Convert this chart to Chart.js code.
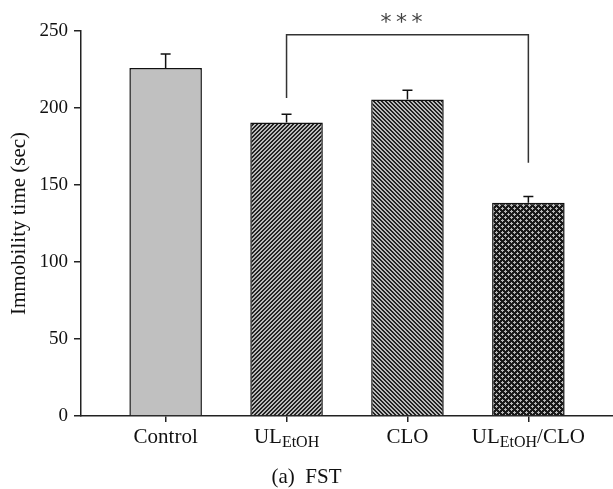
<!DOCTYPE html>
<html>
<head>
<meta charset="utf-8">
<script src="https://cdn.jsdelivr.net/npm/chart.js@4.4.1/dist/chart.umd.min.js"></script>
<style>
  html, body { margin: 0; padding: 0; background: #fff; }
  #wrap { width: 613px; height: 489px; position: relative; }
</style>
</head>
<body>
<div id="wrap"><canvas id="chart"></canvas></div>
<script>
// datos
const groups = ["Control", "UL", "CLO", "UL/CLO"];
const groupMain = ["Control", "UL", "CLO", "UL"];
const groupSub = ["", "EtOH", "", "EtOH"];
const groupTail = ["", "", "", "/CLO"];
const means = [226, 190.5, 205.5, 138.5];
const sems = [9, 5.5, 6, 4];
const yTicks = [0, 50, 100, 150, 200, 250];

// corchete de significancia (***)
const bracketFrom = 1;
const bracketTo = 3;
const bracketTop = 247.5;
const bracketLeftEnd = 206.5;
const bracketRightEnd = 164.5;
const bracketText = "***";

const serif = "'Liberation Serif', 'DejaVu Serif', serif";

// patrones de relleno
function makePattern(size, draw) {
  const c = document.createElement("canvas");
  c.width = size;
  c.height = size;
  const g = c.getContext("2d");
  draw(g, size);
  return g.createPattern(c, "repeat");
}

const hatchUp = makePattern(4, (g, n) => {
  g.fillStyle = "#bababa";
  g.fillRect(0, 0, n, n);
  g.fillStyle = "#222";
  for (let x = 0; x < n; x++)
    for (let y = 0; y < n; y++)
      if ((x + y) % n < 2) g.fillRect(x, y, 1, 1);
});

const hatchDown = makePattern(4, (g, n) => {
  g.fillStyle = "#bababa";
  g.fillRect(0, 0, n, n);
  g.fillStyle = "#222";
  for (let x = 0; x < n; x++)
    for (let y = 0; y < n; y++)
      if (((x - y) % n + n) % n < 2) g.fillRect(x, y, 1, 1);
});

const crossHatch = makePattern(6, (g, n) => {
  g.fillStyle = "#1a1a1a";
  g.fillRect(0, 0, n, n);
  g.fillStyle = "#b8b8b8";
  [[1, 1], [4, 4]].forEach(([cx, cy]) => {
    g.fillRect(cx, cy - 1, 1, 3);
    g.fillRect(cx - 1, cy, 3, 1);
  });
});

const fills = ["#c0c0c0", hatchUp, hatchDown, crossHatch];

// barras de error (solo hacia arriba)
const errorBars = {
  id: "errorBars",
  afterDatasetsDraw(chart) {
    const { ctx, scales: { x, y } } = chart;
    ctx.save();
    ctx.strokeStyle = "#111";
    ctx.lineWidth = 1.5;
    means.forEach((m, i) => {
      const px = x.getPixelForValue(i);
      const y0 = y.getPixelForValue(m);
      const y1 = y.getPixelForValue(m + sems[i]);
      ctx.beginPath();
      ctx.moveTo(px, y0);
      ctx.lineTo(px, y1);
      ctx.moveTo(px - 5, y1);
      ctx.lineTo(px + 5, y1);
      ctx.stroke();
    });
    ctx.restore();
  }
};

// corchete y asteriscos
const bracket = {
  id: "bracket",
  afterDatasetsDraw(chart) {
    const { ctx, scales: { x, y } } = chart;
    const xl = x.getPixelForValue(bracketFrom);
    const xr = x.getPixelForValue(bracketTo);
    const yt = y.getPixelForValue(bracketTop);
    ctx.save();
    ctx.strokeStyle = "#333";
    ctx.lineWidth = 1.5;
    ctx.beginPath();
    ctx.moveTo(xl, y.getPixelForValue(bracketLeftEnd));
    ctx.lineTo(xl, yt);
    ctx.lineTo(xr, yt);
    ctx.lineTo(xr, y.getPixelForValue(bracketRightEnd));
    ctx.stroke();
    ctx.fillStyle = "#444";
    ctx.font = "22px 'DejaVu Sans', sans-serif";
    ctx.textAlign = "center";
    ctx.textBaseline = "middle";
    const mid = (xl + xr) / 2 - 6;
    [...bracketText].forEach((s, k) => {
      ctx.fillText(s, mid + (k - 1) * 15.5, yt - 12);
    });
    ctx.restore();
  }
};

// etiquetas del eje x con subíndices
const xLabels = {
  id: "xLabels",
  afterDraw(chart) {
    const { ctx, scales: { x } } = chart;
    const base = 443;
    ctx.save();
    ctx.fillStyle = "#111";
    ctx.textBaseline = "alphabetic";
    ctx.textAlign = "left";
    groups.forEach((_, i) => {
      const parts = [
        [groupMain[i], "21px " + serif, 0],
        [groupSub[i], "16px " + serif, 4],
        [groupTail[i], "21px " + serif, 0]
      ];
      let w = 0;
      parts.forEach(([t, f]) => { ctx.font = f; w += ctx.measureText(t).width; });
      let cx = x.getPixelForValue(i) - w / 2;
      parts.forEach(([t, f, dy]) => {
        ctx.font = f;
        ctx.fillText(t, cx, base + dy);
        cx += ctx.measureText(t).width;
      });
    });
    ctx.restore();
  }
};

new Chart(document.getElementById("chart"), {
  type: "bar",
  data: {
    datasets: [{
      data: means.map((v, i) => ({ x: i, y: v })),
      backgroundColor: fills,
      borderColor: "#111",
      borderWidth: 1.5,
      barPercentage: 0.6,
      categoryPercentage: 1
    }]
  },
  options: {
    responsive: true,
    maintainAspectRatio: false,
    animation: false,
    layout: { padding: { top: 31, right: 0, bottom: 0, left: 0 } },
    plugins: {
      legend: { display: false },
      tooltip: { enabled: false },
      title: {
        display: true,
        position: "bottom",
        text: "(a)  FST",
        color: "#111",
        font: { family: serif, size: 21, weight: "normal", lineHeight: 1.05 },
        padding: { top: 0, bottom: 0 }
      }
    },
    scales: {
      x: {
        type: "linear",
        min: -0.7,
        max: 3.7,
        offset: false,
        afterBuildTicks: (s) => { s.ticks = groups.map((_, i) => ({ value: i })); },
        afterFit: (s) => { s.height = 51; },
        ticks: { callback: () => "", padding: 0 },
        grid: {
          display: true,
          offset: false,
          drawOnChartArea: false,
          drawTicks: true,
          tickLength: 6,
          tickColor: "#222",
          lineWidth: 1.5
        },
        border: { display: true, color: "#222", width: 1.5 }
      },
      y: {
        min: 0,
        max: 250,
        afterBuildTicks: (s) => { s.ticks = yTicks.map((v) => ({ value: v })); },
        afterFit: (s) => { s.width = 81; },
        ticks: {
          color: "#111",
          padding: 6,
          font: { family: serif, size: 19 }
        },
        grid: {
          display: true,
          drawOnChartArea: false,
          drawTicks: true,
          tickLength: 7,
          tickColor: "#222",
          lineWidth: 1.5
        },
        border: { display: true, color: "#222", width: 1.5 },
        title: {
          display: true,
          text: "Immobility time (sec)",
          color: "#111",
          font: { family: serif, size: 21, lineHeight: 1.2 },
          padding: { top: 7, bottom: 0 }
        }
      }
    }
  },
  plugins: [errorBars, bracket, xLabels]
});
</script>
</body>
</html>
